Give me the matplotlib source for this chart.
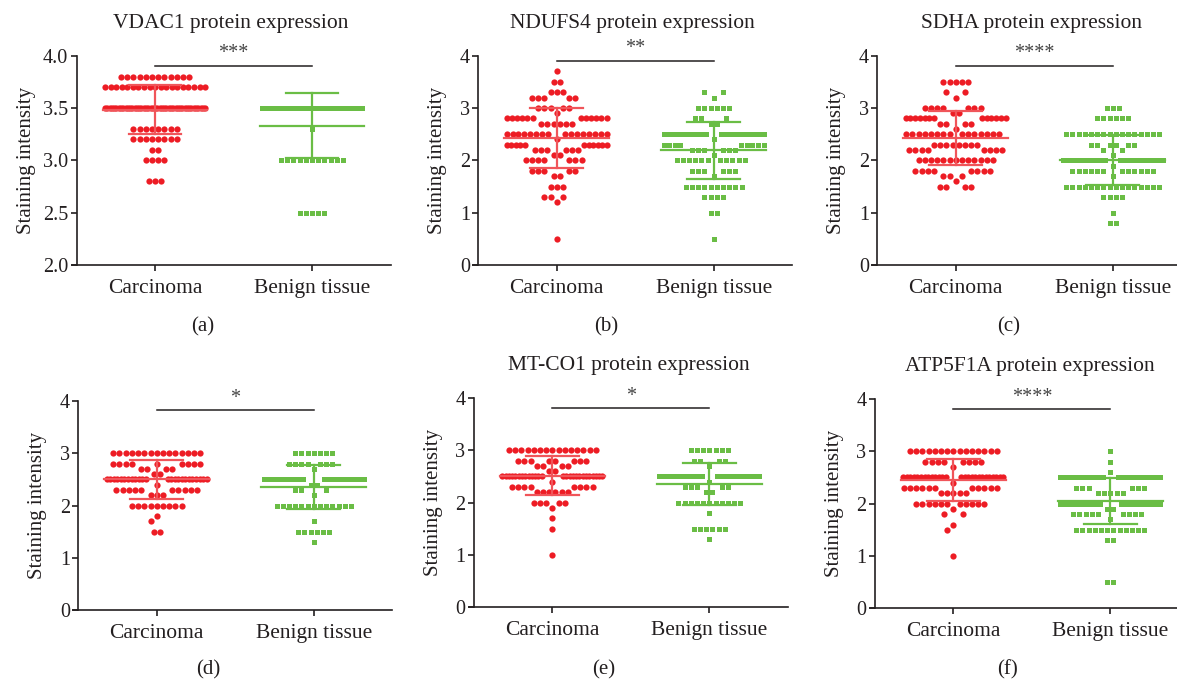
import matplotlib
matplotlib.use("Agg")
import matplotlib.pyplot as plt
import numpy as np

plt.rcParams["font.family"] = ["Liberation Serif", "DejaVu Serif"]

groups = ["Carcinoma", "Benign tissue"]

# (a) VDAC1 - staining levels and number of cases at each level
vdac1_ca_levels = [3.8, 3.7, 3.5, 3.3, 3.2, 3.1, 3.0, 2.8]
vdac1_ca_counts = [12, 19, 45, 8, 8, 2, 4, 3]
vdac1_bn_levels = [3.5, 3.3, 3.0, 2.5]
vdac1_bn_counts = [46, 1, 11, 5]

# (b) NDUFS4
ndufs4_ca_levels = [3.7, 3.5, 3.3, 3.2, 3.0, 2.9, 2.8, 2.7, 2.5, 2.4, 2.3, 2.2, 2.1, 2.0, 1.8, 1.7, 1.5, 1.3, 1.2, 0.5]
ndufs4_ca_counts = [1, 2, 3, 5, 5, 1, 12, 6, 16, 1, 11, 6, 2, 7, 5, 2, 3, 3, 1, 1]
ndufs4_bn_levels = [3.3, 3.2, 3.0, 2.8, 2.7, 2.5, 2.4, 2.3, 2.2, 2.1, 2.0, 1.8, 1.7, 1.5, 1.3, 1.0, 0.5]
ndufs4_bn_counts = [2, 1, 6, 3, 2, 24, 1, 9, 6, 1, 11, 6, 1, 10, 4, 2, 1]

# (c) SDHA
sdha_ca_levels = [3.5, 3.3, 3.2, 3.0, 2.9, 2.8, 2.7, 2.6, 2.5, 2.3, 2.2, 2.0, 1.8, 1.7, 1.6, 1.5]
sdha_ca_counts = [5, 2, 1, 7, 2, 13, 4, 1, 15, 8, 8, 13, 8, 3, 1, 4]
sdha_bn_levels = [3.0, 2.8, 2.5, 2.3, 2.2, 2.1, 2.0, 1.9, 1.8, 1.7, 1.5, 1.3, 1.0, 0.8]
sdha_bn_counts = [3, 6, 16, 6, 2, 1, 26, 1, 12, 1, 16, 4, 1, 2]

# (d) no title in the original
d_ca_levels = [3.0, 2.8, 2.7, 2.6, 2.5, 2.4, 2.3, 2.2, 2.0, 1.8, 1.7, 1.5]
d_ca_counts = [15, 9, 4, 2, 24, 1, 10, 3, 9, 1, 1, 2]
d_bn_levels = [3.0, 2.8, 2.7, 2.5, 2.4, 2.3, 2.2, 2.0, 1.7, 1.5, 1.3]
d_bn_counts = [7, 7, 1, 30, 2, 3, 1, 13, 1, 6, 1]

# (e) MT-CO1
mtco1_ca_levels = [3.0, 2.8, 2.7, 2.6, 2.5, 2.4, 2.3, 2.2, 2.0, 1.9, 1.7, 1.5, 1.0]
mtco1_ca_counts = [15, 8, 4, 2, 26, 1, 8, 6, 5, 1, 1, 1, 1]
mtco1_bn_levels = [3.0, 2.8, 2.7, 2.5, 2.4, 2.3, 2.2, 2.0, 1.8, 1.5, 1.3]
mtco1_bn_counts = [7, 4, 1, 36, 1, 5, 2, 11, 1, 6, 1]

# (f) ATP5F1A
atp_ca_levels = [3.0, 2.8, 2.7, 2.5, 2.4, 2.3, 2.2, 2.0, 1.9, 1.8, 1.6, 1.5, 1.0]
atp_ca_counts = [15, 8, 1, 26, 1, 11, 5, 11, 1, 2, 1, 1, 1]
atp_bn_levels = [3.0, 2.8, 2.6, 2.5, 2.3, 2.2, 2.0, 1.9, 1.8, 1.7, 1.5, 1.3, 0.5]
atp_bn_counts = [1, 1, 1, 24, 6, 5, 28, 2, 9, 1, 12, 2, 2]

titles = ["VDAC1 protein expression", "NDUFS4 protein expression", "SDHA protein expression",
          "", "MT-CO1 protein expression", "ATP5F1A protein expression"]
stars = ["***", "**", "****", "*", "*", "****"]
letters = ["(a)", "(b)", "(c)", "(d)", "(e)", "(f)"]

panels = [
    (vdac1_ca_levels, vdac1_ca_counts, vdac1_bn_levels, vdac1_bn_counts),
    (ndufs4_ca_levels, ndufs4_ca_counts, ndufs4_bn_levels, ndufs4_bn_counts),
    (sdha_ca_levels, sdha_ca_counts, sdha_bn_levels, sdha_bn_counts),
    (d_ca_levels, d_ca_counts, d_bn_levels, d_bn_counts),
    (mtco1_ca_levels, mtco1_ca_counts, mtco1_bn_levels, mtco1_bn_counts),
    (atp_ca_levels, atp_ca_counts, atp_bn_levels, atp_bn_counts),
]

# layout (pixels in the 1177x679 figure)
W, H = 1177, 679
cat_px = [155, 556.7, 955.7, 156.7, 552.3, 953.3]
top_px = [55.7, 55.7, 55.7, 401, 398, 399]
bot_px = [265, 265, 265, 610.3, 607.3, 608.3]
letter_xy = [(203, 327), (606, 327), (1009, 327), (208, 670), (604, 670), (1008, 670)]
bar_y = [3.9, 3.9, 3.8, 3.82, 3.8, 3.8]
ylims = [(2, 4), (0, 4), (0, 4), (0, 4), (0, 4), (0, 4)]
unit_px = 157.0
xlim = (-0.53, 1.5)

RED = "#ed1c24"
RED_LINE = "#f0555a"
GREEN = "#6abd45"
INK = "#231f20"


def swarm(levels, counts, ypx, s=6.2, d=6.0, half=50.0):
    # simple row-wise beeswarm, in pixels: smaller rows get the centre first
    placed = []
    xs_out, ys_out = [], []
    order = np.argsort(counts, kind="stable")
    for i in order:
        v, n = levels[i], counts[i]
        y = v * ypx
        near = [p[0] for p in placed if p[2] != i and abs(p[1] - y) < d]

        def free(x):
            return all(abs(x - q) >= d for q in near)

        kmax = int(half // s) + 1
        if n % 2:
            cand = np.arange(-kmax, kmax + 1) * s
        else:
            cand = (np.arange(-kmax, kmax) + 0.5) * s
        cand = [c for c in cand if abs(c) <= half]
        cand.sort(key=lambda c: (abs(c), c))
        ok = [c for c in cand if free(c)]
        if len(ok) >= n:
            xs = ok[:n]
        else:
            fine = [c for c in np.linspace(-half, half, 401) if free(c)]
            idx = np.round(np.linspace(0, len(fine) - 1, n)).astype(int)
            xs = [fine[j] for j in idx]
        for x in xs:
            placed.append((x, y, i))
            xs_out.append(x)
            ys_out.append(v)
    return np.array(xs_out), np.array(ys_out)


fig = plt.figure(figsize=(W / 100, H / 100), dpi=100)

for k in range(6):
    left = cat_px[k] + xlim[0] * unit_px
    width = (xlim[1] - xlim[0]) * unit_px
    ax = fig.add_axes([left / W, 1 - bot_px[k] / H, width / W, (bot_px[k] - top_px[k]) / H])
    ax.set_xlim(*xlim)
    ax.set_ylim(*ylims[k])
    ypx = (bot_px[k] - top_px[k]) / (ylims[k][1] - ylims[k][0])

    ca_l, ca_c, bn_l, bn_c = panels[k]
    for g, (lv, ct) in enumerate([(ca_l, ca_c), (bn_l, bn_c)]):
        xs, ys = swarm(lv, ct, ypx)
        if g == 0:
            ax.plot(g + xs / unit_px, ys, "o", ms=4.5, color=RED, mec=RED, mew=0, zorder=2, clip_on=False)
            lc = RED_LINE
        else:
            pts, = ax.plot(g + xs / unit_px, ys, "s", ms=3.6, color=GREEN, mec=GREEN, mew=0,
                           zorder=2, clip_on=False)
            pts.set_snap(False)
            lc = GREEN
        vals = np.repeat(lv, ct)
        m, sd = vals.mean(), vals.std(ddof=1)
        ax.plot([g, g], [m - sd, m + sd], color=lc, lw=1.6, zorder=3)
        ax.plot([g - 0.167, g + 0.167], [m + sd] * 2, color=lc, lw=1.6, zorder=3)
        ax.plot([g - 0.167, g + 0.167], [m - sd] * 2, color=lc, lw=1.6, zorder=3)
        ax.plot([g - 0.334, g + 0.334], [m, m], color=lc, lw=1.6, zorder=3)

    # significance bar
    ax.plot([0, 1], [bar_y[k]] * 2, color=INK, lw=1.1, clip_on=False)
    ax.annotate(stars[k], (0.5, bar_y[k]), xytext=(0, 2), textcoords="offset points",
                ha="center", va="bottom", fontsize=14.5, color="#444444")

    if titles[k]:
        ax.annotate(titles[k], (0.485, 1), xycoords=("data", "axes fraction"),
                    xytext=(0, 23.5), textcoords="offset points",
                    ha="center", va="center", fontsize=15.5, color=INK)

    for sp in ["top", "right"]:
        ax.spines[sp].set_visible(False)
    ax.spines["left"].set_position(("data", -0.5))
    for sp in ["left", "bottom"]:
        ax.spines[sp].set_linewidth(1.2)
        ax.spines[sp].set_color(INK)

    ax.set_xticks([0, 1])
    ax.set_xticklabels(groups, fontsize=15.5, color=INK)
    if k == 0:
        ax.set_yticks([2.0, 2.5, 3.0, 3.5, 4.0])
        ax.set_yticklabels(["2.0", "2.5", "3.0", "3.5", "4.0"])
    else:
        ax.set_yticks([0, 1, 2, 3, 4])
    ax.tick_params(axis="y", direction="out", length=4, width=1.2, pad=2, labelsize=14.5,
                   colors=INK)
    ax.tick_params(axis="x", direction="out", length=4, width=1.2, pad=6, colors=INK)
    ax.set_ylabel("Staining intensity", fontsize=15, color=INK, labelpad=5 if k == 0 else 9)

    fig.text(letter_xy[k][0] / W, 1 - letter_xy[k][1] / H, letters[k], ha="center", va="center",
             fontsize=15, color=INK)

fig.savefig("out.png", dpi=100)
